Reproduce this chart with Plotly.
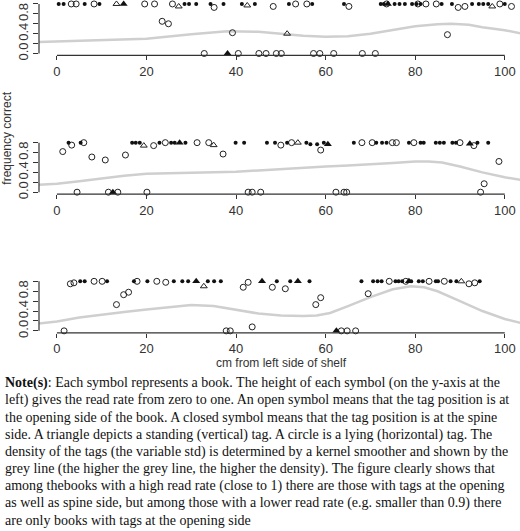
import plotly.graph_objects as go

# ---- data (x in cm, y = read rate) ----
# Panel 1
p1_dot_x = [0.4,1.5,6.2,9.5,28.5,29.5,31.1,34.3,37.2,41.3,44.2,51.8,57,64.1,72.3,73,75.4,76.5,77.7,79.3,80.3,81.2,85.9,88.2,92.7,94.2,95.2,96.3,100]
p1_dot_y = [1]*29
p1_circ_x = [3.2,4.3,8.3,19.6,21.8,25.8,53.3,55.8,73.6,80.6,82.4,84.7,98.9,35.1,48.3,65.2,89.6,91.1,101.5,23.5,24.9,39.2,87.2,32.9,40.5,45.1,46.7,49,50.1,57.3,58.7,61.8,68.2,71.1]
p1_circ_y = [1]*13 + [0.93,0.95,0.95,0.93,0.95,0.95,0.65,0.6,0.42,0.38] + [0]*11
p1_otri_x = [13.3,27.2,42.5,97.2,51.4]
p1_otri_y = [1,0.95,0.97,0.95,0.4]
p1_ftri_x = [14.9,73.9,38.1]
p1_ftri_y = [1,1,0]
p1_smooth_x = [-4,0,10,20,30,38,45,50,55,60,65,70,75,80,85,88,92,95,100,104]
p1_smooth_y = [0.23,0.24,0.26,0.3,0.39,0.45,0.44,0.4,0.36,0.34,0.35,0.4,0.47,0.55,0.59,0.6,0.58,0.53,0.47,0.4]

# Panel 2
p2_dot_x = [2.6,5.3,16.8,17.6,18.5,22.9,25.5,26.3,28.7,39.9,41.8,46.9,48.7,51.4,55.7,56.6,58.1,59.6,66.3,71.3,72.6,73.6,78.6,81.2,81.9,84.6,85.5,86.4,88.3,89.1,93.9,96.3]
p2_dot_y = [1,1,1,1,1,1,1,1,1,1,1,1,1,1,1,0.97,0.97,1,1,1,1,1,1,1,1,1,1,1,1,1,1,1]
p2_circ_x = [6,24.2,31.3,33.9,52.4,68.1,70.4,74.9,75.8,79.7,90,1.3,3.3,21.6,50,93.1,7.8,10.8,15.3,37.1,58.9,98.7,95.4,4.5,11.5,13.6,20.1,42.7,43.6,45.5,62.3,64.1,64.7,94.6]
p2_circ_y = [1]*11 + [0.82,0.95,0.94,0.95,0.94,0.71,0.65,0.75,0.77,0.85,0.62,0.17] + [0]*11
p2_otri_x = [19.4,35,53.8]
p2_otri_y = [0.94,0.95,1]
p2_ftri_x = [27.4,60.5,92.2,12.5]
p2_ftri_y = [1,0.97,0.98,0]
p2_smooth_x = [-4,0,5,10,15,20,25,30,35,40,45,50,55,60,65,70,75,80,83,86,90,95,100,104]
p2_smooth_y = [0.15,0.17,0.22,0.28,0.33,0.37,0.38,0.39,0.39,0.41,0.44,0.47,0.5,0.52,0.54,0.56,0.59,0.62,0.62,0.6,0.52,0.4,0.3,0.24]

# Panel 3
p3_dot_x = [5.2,6.2,11.2,17.2,20.2,26.1,28,29.3,33.7,35.1,36.6,49.1,52.1,56.4,68,70.6,71.6,72.5,75.6,76.3,77.1,79.1,80.8,81.7,84.6,85.1,87.9,89.2,94.4]
p3_dot_y = [1]*29
p3_circ_x = [3.8,8.3,10.1,17.9,22.3,24.3,42.7,74.2,77.9,83.1,86.5,93.3,3,92,13.3,14.9,16,41.6,48.1,51,57.8,58.9,69.5,43.6,1.6,37.8,38.7,63.5,64.8,66.7]
p3_circ_y = [0.97,1,1,1,1,0.98,0.98,1,1,1,1,0.97,0.95,0.95,0.53,0.73,0.78,0.88,0.88,0.85,0.53,0.67,0.75,0.08,0,0,0,0,0,0]
p3_otri_x = [32.8,90.3]
p3_otri_y = [0.9,1]
p3_ftri_x = [31.1,45.8,53.8,78.6,62.4]
p3_ftri_y = [1,1,1,1,0]
p3_smooth_x = [-4,0,5,10,15,20,25,30,35,40,45,50,55,58,61,65,70,75,79,82,85,90,95,100,104]
p3_smooth_y = [0.15,0.19,0.27,0.33,0.38,0.43,0.48,0.52,0.5,0.42,0.35,0.31,0.3,0.31,0.36,0.5,0.68,0.84,0.9,0.88,0.8,0.6,0.4,0.24,0.15]

x_ticks = [0, 20, 40, 60, 80, 100]
y_ticks = [0, 0.2, 0.4, 0.6, 0.8, 1.0]
y_ticktext = ["0.0", "", "0.4", "", "0.8", ""]

note_lines = [
    "<b>Note(s)</b>: Each symbol represents a book. The height of each symbol (on the y-axis at the",
    "left) gives the read rate from zero to one. An open symbol means that the tag position is at",
    "the opening side of the book. A closed symbol means that the tag position is at the spine",
    "side. A triangle depicts a standing (vertical) tag. A circle is a lying (horizontal) tag. The",
    "density of the tags (the variable std) is determined by a kernel smoother and shown by the",
    "grey line (the higher the grey line, the higher the density). The figure clearly shows that",
    "among thebooks with a high read rate (close to 1) there are those with tags at the opening",
    "as well as spine side, but among those with a lower read rate (e.g. smaller than 0.9) there",
    "are only books with tags at the opening side",
]

W, H = 520, 531
panels = [
    (p1_dot_x, p1_dot_y, p1_circ_x, p1_circ_y, p1_otri_x, p1_otri_y, p1_ftri_x, p1_ftri_y, p1_smooth_x, p1_smooth_y, 2, 56),
    (p2_dot_x, p2_dot_y, p2_circ_x, p2_circ_y, p2_otri_x, p2_otri_y, p2_ftri_x, p2_ftri_y, p2_smooth_x, p2_smooth_y, 142, 196),
    (p3_dot_x, p3_dot_y, p3_circ_x, p3_circ_y, p3_otri_x, p3_otri_y, p3_ftri_x, p3_ftri_y, p3_smooth_x, p3_smooth_y, 282, 336),
]

fig = go.Figure()
layout = dict(width=W, height=H, margin=dict(l=0, r=0, t=0, b=0),
              paper_bgcolor="white", plot_bgcolor="white", showlegend=False,
              font=dict(family="Liberation Sans, Arial", size=13, color="#333"))
shapes = []
tickfont = dict(family="Liberation Sans, Arial", size=13, color="#333")
for i, (dx, dy, cx, cy, ox, oy, fx, fy, sx, sy, top, bot) in enumerate(panels):
    n = "" if i == 0 else str(i + 1)
    xa, ya = "x" + n, "y" + n
    fig.add_trace(go.Scatter(x=sx, y=sy, mode="lines", line=dict(color="#cfcfcf", width=2.5), xaxis=xa, yaxis=ya, hoverinfo="skip"))
    fig.add_trace(go.Scatter(x=cx, y=cy, mode="markers", marker=dict(symbol="circle-open", size=6, color="#222", line=dict(width=1)), xaxis=xa, yaxis=ya, cliponaxis=False))
    fig.add_trace(go.Scatter(x=dx, y=dy, mode="markers", marker=dict(symbol="circle", size=4, color="#111"), xaxis=xa, yaxis=ya, cliponaxis=False))
    fig.add_trace(go.Scatter(x=ox, y=oy, mode="markers", marker=dict(symbol="triangle-up-open", size=6, color="#222", line=dict(width=1)), xaxis=xa, yaxis=ya, cliponaxis=False))
    fig.add_trace(go.Scatter(x=fx, y=fy, mode="markers", marker=dict(symbol="triangle-up", size=7, color="#111"), xaxis=xa, yaxis=ya, cliponaxis=False))
    layout["xaxis" + n] = dict(domain=[39 / W, 1], range=[-4, 103.4], tickvals=x_ticks, ticks="outside", ticklen=4,
                               tickcolor="#333", showgrid=False, zeroline=False, showline=False, anchor=ya,
                               tickfont=tickfont)
    layout["yaxis" + n] = dict(domain=[1 - bot / H, 1 - top / H], range=[-0.04, 1.04], tickvals=y_ticks,
                               ticktext=y_ticktext, tickangle=-90, ticks="outside", ticklen=5, tickcolor="#333",
                               showgrid=False, zeroline=False, showline=False, anchor=xa, tickfont=tickfont)
    shapes.append(dict(type="line", xref=xa, yref=ya + " domain", x0=0, x1=100, y0=0, y1=0, line=dict(color="#333", width=1.2)))
    shapes.append(dict(type="line", xref=xa + " domain", yref=ya, x0=0, x1=0, y0=0, y1=1, line=dict(color="#333", width=1.2)))
layout["shapes"] = shapes

ann = [
    dict(text="frequency correct", x=7 / W, y=1 - 140 / H, xref="paper", yref="paper", textangle=-90,
         xanchor="center", yanchor="middle", showarrow=False, font=dict(size=12, color="#333")),
    dict(text="cm from left side of shelf", x=281 / W, y=1 - 366 / H, xref="paper", yref="paper",
         xanchor="center", yanchor="middle", showarrow=False, font=dict(size=12, color="#333")),
]
for k, line in enumerate(note_lines):
    ann.append(dict(text=line, x=3 / W, y=1 - (387 + k * 17.3) / H, xref="paper", yref="paper",
                    xanchor="left", yanchor="middle", showarrow=False,
                    font=dict(family="Liberation Serif, Times New Roman", size=14, color="#111")))
layout["annotations"] = ann
fig.update_layout(**layout)
fig.write_html("out.html", config={"displayModeBar": False},
               post_script="document.body.style.margin='0';document.body.style.overflow='hidden';")
